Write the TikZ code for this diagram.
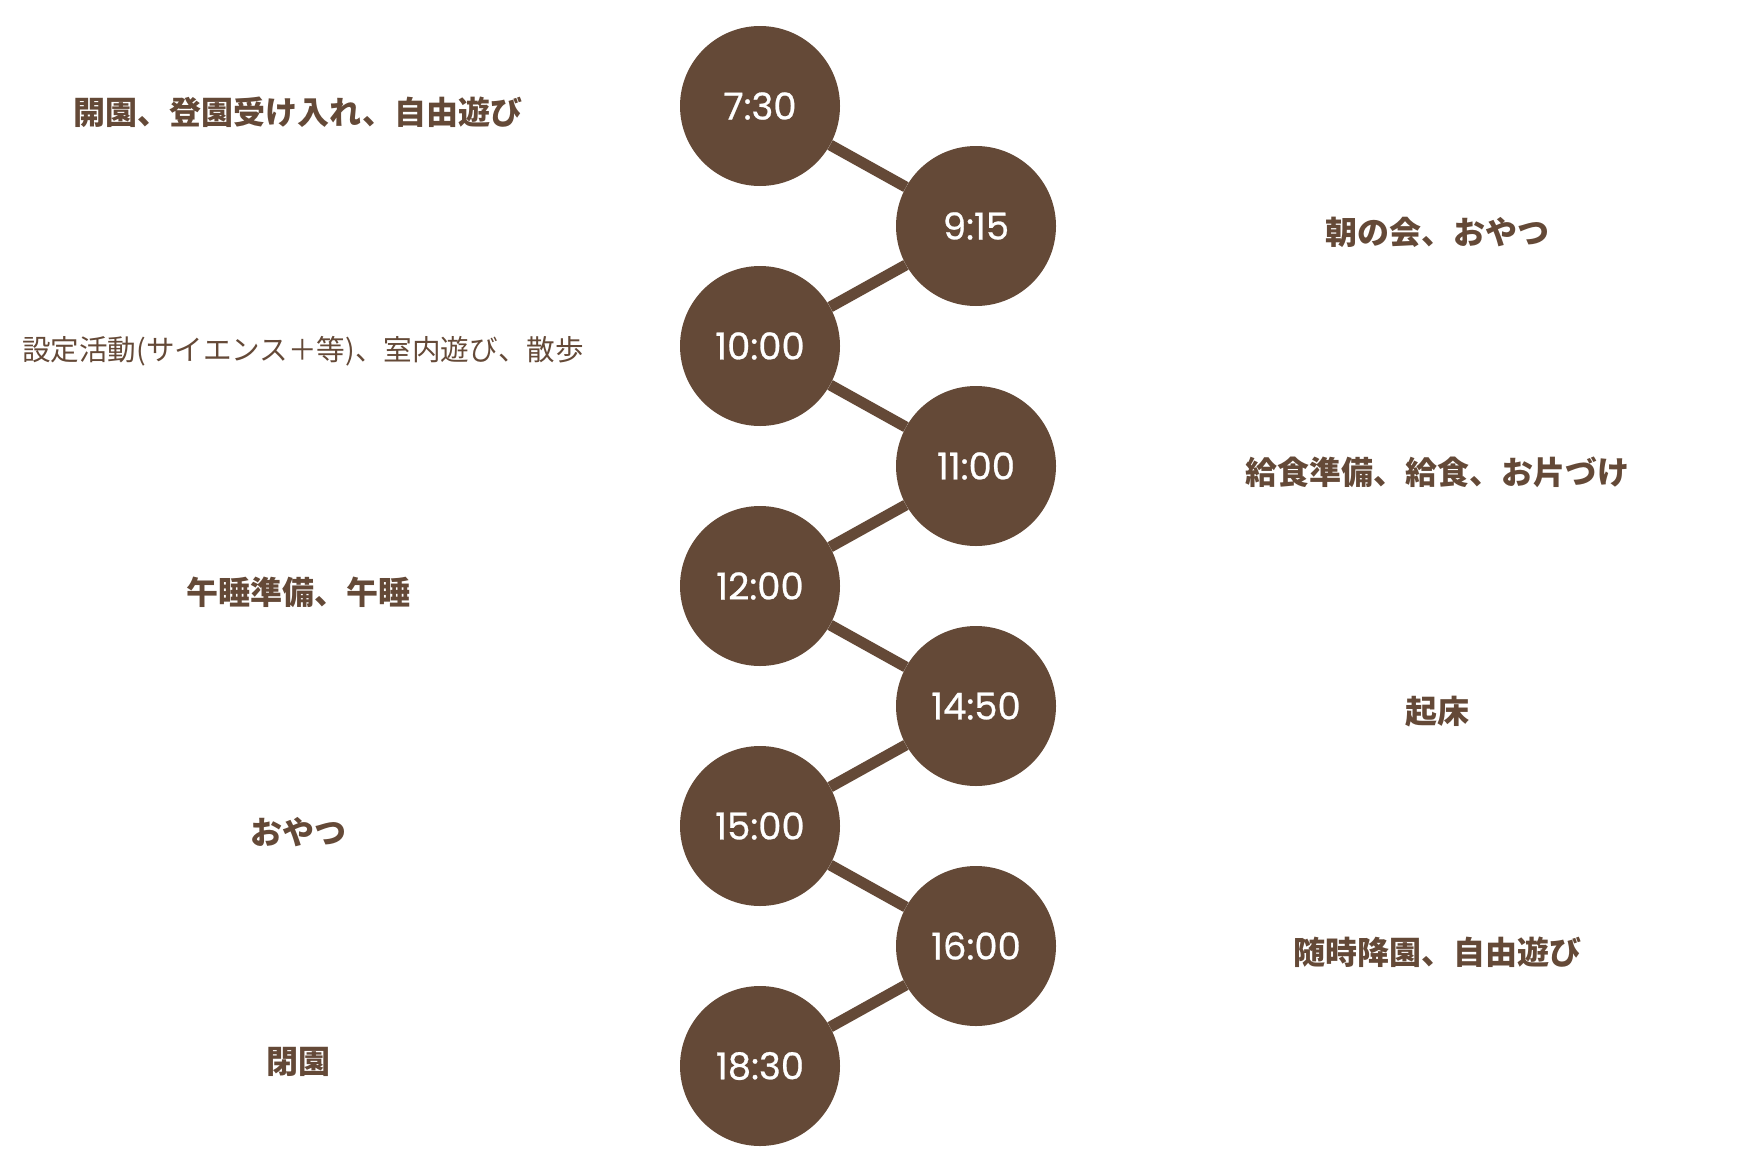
\documentclass[tikz,border=0pt]{standalone}
\usepackage{fontspec}
\setmainfont{Noto Sans CJK JP}
\newfontfamily\clockfont[FakeBold=0.7]{Poppins}
\usetikzlibrary{positioning}
\definecolor{cocoa}{HTML}{644937}

\begin{document}
\begin{tikzpicture}[
    x=1pt, y=-1pt,
    node distance=120pt and 216pt,
    on grid,
    every node/.style={text=cocoa},
    timedot/.style={
      circle,
      fill=cocoa,
      minimum size=160pt,
      inner sep=0pt,
      text=white,
      font=\clockfont\fontsize{37}{41}\selectfont
    },
    task/.style={font=\bfseries\fontsize{32}{36}\selectfont, yshift=-6pt},
    longtask/.style={font=\fontsize{28.6}{32}\selectfont, yshift=-5pt},
    link/.style={draw=cocoa, line width=11pt}
  ]
    \useasboundingbox (0,0) rectangle (1740,1170);

    \node[timedot] (t1) at (760,106) {7:30};
    \node[timedot, below right=of t1] (t2) {9:15};
    \node[timedot, below left=of t2]  (t3) {10:00};
    \node[timedot, below right=of t3] (t4) {11:00};
    \node[timedot, below left=of t4]  (t5) {12:00};
    \node[timedot, below right=of t5] (t6) {14:50};
    \node[timedot, below left=of t6]  (t7) {15:00};
    \node[timedot, below right=of t7] (t8) {16:00};
    \node[timedot, below left=of t8]  (t9) {18:30};

    \node[task, left=462pt of t1]      (s1) {開園、登園受け入れ、自由遊び};
    \node[task, right=461pt of t2]     (s2) {朝の会、おやつ};
    \node[longtask, left=457pt of t3]  (s3) {設定活動(サイエンス＋等)、室内遊び、散歩};
    \node[task, right=461pt of t4]     (s4) {給食準備、給食、お片づけ};
    \node[task, left=462pt of t5]      (s5) {午睡準備、午睡};
    \node[task, right=461pt of t6]     (s6) {起床};
    \node[task, left=462pt of t7]      (s7) {おやつ};
    \node[task, right=461pt of t8]     (s8) {随時降園、自由遊び};
    \node[task, left=462pt of t9, yshift=10pt] (s9) {閉園};

    \path
      (t1) edge[link] (t2)
      (t2) edge[link] (t3)
      (t3) edge[link] (t4)
      (t4) edge[link] (t5)
      (t5) edge[link] (t6)
      (t6) edge[link] (t7)
      (t7) edge[link] (t8)
      (t8) edge[link] (t9);
  \end{tikzpicture}
\end{document}
